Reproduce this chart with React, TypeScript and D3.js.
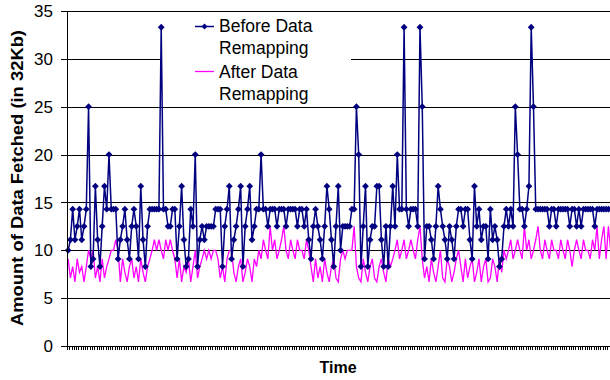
import React from 'react';
import * as d3 from 'd3';

// amount of data fetched per time step (in 32Kb units)
const beforeRemap = [
  10, 11.1, 14.3, 11.1, 12.5, 14.3, 11.1, 12.5, 14.3, 25,
  8.3, 9.1, 16.7, 11.1, 8.3, 12.5, 16.7, 14.3, 20, 14.3,
  14.3, 14.3, 9.1, 11.1, 12.5, 14.3, 11.1, 9.1, 12.5, 14.3,
  12.5, 9.1, 16.7, 11.1, 8.3, 12.5, 14.3, 14.3, 14.3, 14.3,
  14.3, 33.3, 14.3, 14.3, 12.5, 12.5, 14.3, 14.3, 9.1, 12.5,
  16.7, 11.1, 8.3, 9.1, 14.3, 12.5, 20, 8.3, 11.1, 12.5,
  11.1, 12.5, 12.5, 12.5, 12.5, 14.3, 14.3, 14.3, 8.3, 12.5,
  14.3, 16.7, 9.1, 11.1, 12.5, 14.3, 16.7, 8.3, 12.5, 14.3,
  16.7, 11.1, 12.5, 14.3, 14.3, 20, 14.3, 14.3, 12.5, 14.3,
  14.3, 14.3, 12.5, 14.3, 14.3, 14.3, 12.5, 14.3, 14.3, 14.3,
  14.3, 12.5, 14.3, 14.3, 12.5, 14.3, 11.1, 9.1, 12.5, 14.3,
  12.5, 11.1, 9.1, 12.5, 16.7, 14.3, 11.1, 8.3, 12.5, 16.7,
  10, 12.5, 12.5, 12.5, 12.5, 14.3, 14.3, 25, 20, 8.3,
  12.5, 16.7, 8.3, 11.1, 12.5, 12.5, 16.7, 16.7, 11.1, 8.3,
  12.5, 8.3, 12.5, 16.7, 12.5, 20, 14.3, 14.3, 33.3, 14.3,
  12.5, 14.3, 14.3, 14.3, 12.5, 33.3, 25, 9.1, 12.5, 12.5,
  11.1, 9.1, 12.5, 16.7, 14.3, 12.5, 11.1, 9.1, 12.5, 11.1,
  9.1, 12.5, 14.3, 14.3, 12.5, 14.3, 14.3, 11.1, 9.1, 16.7,
  12.5, 14.3, 11.1, 12.5, 12.5, 9.1, 14.3, 11.1, 12.5, 11.1,
  8.3, 9.1, 12.5, 14.3, 12.5, 14.3, 12.5, 25, 20, 14.3,
  14.3, 12.5, 14.3, 16.7, 33.3, 25, 14.3, 14.3, 14.3, 14.3,
  14.3, 14.3, 12.5, 14.3, 14.3, 12.5, 14.3, 14.3, 14.3, 14.3,
  14.3, 12.5, 14.3, 14.3, 12.5, 14.3, 12.5, 14.3, 14.3, 14.3,
  14.3, 14.3, 12.5, 14.3, 14.3, 14.3, 14.3, 14.3, 14.3, 14.3,
];

const afterRemap = [
  9.1, 7.1, 8.3, 6.7, 9.1, 7.7, 8.3, 6.7, 8.3, 10,
  9.1, 10, 7.1, 8.3, 6.7, 9.1, 7.1, 8.3, 9.1, 10,
  10, 11.1, 10, 6.7, 9.1, 7.7, 6.7, 8.3, 9.1, 7.1,
  8.3, 6.7, 9.1, 7.7, 6.7, 8.3, 9.1, 10, 11.1, 10,
  11.1, 10, 9.1, 11.1, 10, 11.1, 10, 9.1, 7.1, 9.1,
  6.7, 8.3, 7.7, 9.1, 6.7, 8.3, 10, 7.1, 8.3, 9.1,
  10, 9.1, 10, 9.1, 10, 10, 9.1, 7.1, 8.3, 6.7,
  9.1, 10, 10, 7.7, 6.7, 8.3, 9.1, 6.7, 7.7, 9.1,
  8.3, 6.7, 9.1, 8.3, 10, 9.1, 11.1, 10, 9.1, 12.5,
  10, 11.1, 9.1, 10, 11.1, 12.5, 10, 9.1, 11.1, 10,
  9.1, 11.1, 10, 10, 9.1, 11.1, 10, 8.3, 6.7, 9.1,
  7.1, 8.3, 6.7, 9.1, 7.7, 6.7, 8.3, 9.1, 7.1, 6.7,
  9.1, 10, 9.1, 10, 10, 10, 12.5, 8.3, 7.1, 6.7,
  9.1, 7.7, 6.7, 8.3, 9.1, 7.1, 6.7, 8.3, 9.1, 7.7,
  6.7, 9.1, 8.3, 9.1, 10, 11.1, 9.1, 10, 11.1, 9.1,
  10, 11.1, 10, 9.1, 11.1, 12.5, 9.1, 7.1, 8.3, 6.7,
  9.1, 7.7, 6.7, 8.3, 10, 7.1, 6.7, 9.1, 8.3, 6.7,
  7.7, 9.1, 10, 8.3, 6.7, 9.1, 7.1, 8.3, 9.1, 6.7,
  7.7, 9.1, 6.7, 8.3, 9.1, 6.7, 7.1, 9.1, 8.3, 6.7,
  9.1, 7.7, 10, 9.1, 10, 11.1, 9.1, 10, 11.1, 10,
  9.1, 12.5, 10, 11.1, 9.1, 10, 11.1, 12.5, 10, 9.1,
  11.1, 10, 9.1, 11.1, 10, 10, 9.1, 11.1, 10, 9.1,
  11.1, 10, 8.3, 10, 11.1, 10, 9.1, 11.1, 10, 10,
  9.1, 11.1, 10, 12.5, 9.1, 11.1, 12.5, 9.1, 12.5, 10,
];

const yTicks = [0, 5, 10, 15, 20, 25, 30, 35];
const legendItems = ['Before Data', 'After Data'];

const font = 'Arial, "Liberation Sans", Helvetica, sans-serif';

export default function App() {
  const categories = beforeRemap.map((_, i) => i);
  const left = 67, top = 11, bottom = 346;
  const step = 2.27;

  const x = d3.scaleBand<number>()
    .domain(categories)
    .range([left, left + categories.length * step])
    .paddingInner(0);

  const y = d3.scaleLinear().domain([0, 35]).range([bottom, top]);

  const cx = (i: number) => (x(i) as number) + x.bandwidth() / 2;

  const line = d3.line<number>()
    .x((_, i) => cx(i))
    .y(d => y(d));

  const crisp = (v: number) => Math.round(v) + 0.5;

  // category tick marks under the axis
  let tickPath = '';
  categories.forEach(c => {
    const tx = Math.round(x(c) as number) + 0.5;
    tickPath += `M${tx},${bottom}V${bottom + 4}`;
  });

  const legend = { x: 161, y: 13, w: 190, h: 92 };
  const m = 3.4; // marker half size

  return (
    <svg width={610} height={380} style={{ position: 'absolute', left: 0, top: 0, background: '#fff' }}>
      {/* gridlines */}
      {yTicks.filter(t => t > 0).map(t => (
        <line key={t} x1={left} x2={610} y1={crisp(y(t))} y2={crisp(y(t))} stroke="#000" strokeWidth={1} />
      ))}

      {/* legend background hides gridline under it */}
      <rect x={legend.x} y={legend.y} width={legend.w} height={legend.h} fill="#fff" />

      {/* series */}
      <path d={line(afterRemap) ?? ''} fill="none" stroke="#ff00ff" strokeWidth={1.3} />
      <path d={line(beforeRemap) ?? ''} fill="none" stroke="#000080" strokeWidth={1.5} />
      {beforeRemap.map((v, i) => {
        const px = cx(i), py = y(v);
        return <path key={i} d={`M${px},${py - m}L${px + m},${py}L${px},${py + m}L${px - m},${py}Z`} fill="#000080" />;
      })}

      {/* axes */}
      <line x1={crisp(left)} x2={crisp(left)} y1={top} y2={bottom + 1} stroke="#000" />
      <line x1={left} x2={610} y1={crisp(bottom)} y2={crisp(bottom)} stroke="#000" />
      <path d={tickPath} stroke="#000" strokeWidth={1} />
      {yTicks.map(t => (
        <g key={t}>
          <line x1={left - 6} x2={left} y1={crisp(y(t))} y2={crisp(y(t))} stroke="#000" />
          <text x={53} y={y(t)} dy="0.36em" textAnchor="end" fontFamily={font} fontSize={17} fill="#000">{t}</text>
        </g>
      ))}

      <text x={338} y={373} textAnchor="middle" fontFamily={font} fontSize={16} fontWeight="bold">Time</text>
      <text transform="translate(23,178) rotate(-90)" textAnchor="middle" fontFamily={font} fontSize={17}
        fontWeight="bold" textLength={296} lengthAdjust="spacingAndGlyphs">Amount of Data Fetched (in 32Kb)</text>

      {/* legend */}
      <line x1={195} x2={214} y1={26.5} y2={26.5} stroke="#000080" strokeWidth={1.5} />
      <path d="M204.5,23.5L207.5,26.5L204.5,29.5L201.5,26.5Z" fill="#000080" />
      <line x1={195} x2={214} y1={71.5} y2={71.5} stroke="#ff00ff" strokeWidth={1.3} />
      {legendItems.map((name, k) => (
        <text key={name} x={219} y={32 + k * 46} fontFamily={font} fontSize={17.5} fill="#000">
          <tspan x={219}>{name}</tspan>
          <tspan x={219} dy={21.5}>Remapping</tspan>
        </text>
      ))}
    </svg>
  );
}
